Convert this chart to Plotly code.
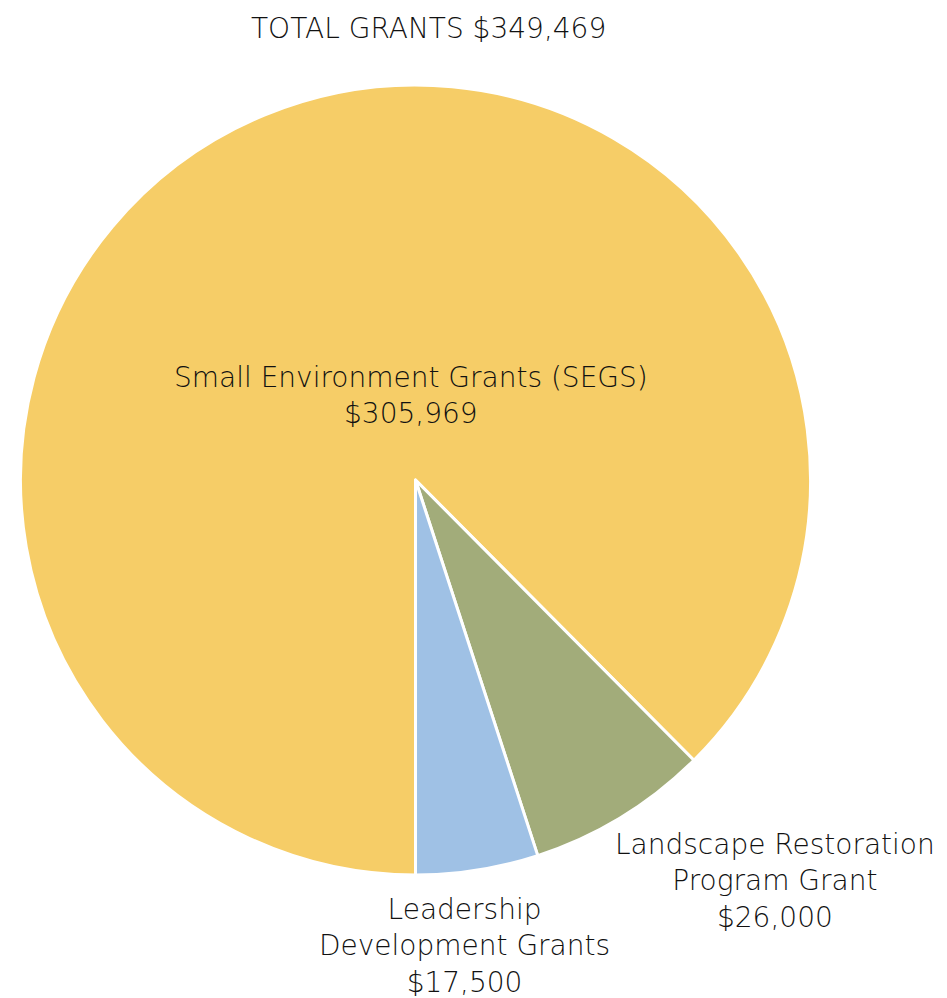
import plotly.graph_objects as go

categories = ["Small Environment Grants (SEGS)", "Landscape Restoration<br>Program Grant", "Leadership<br>Development Grants"]
values = [305969, 26000, 17500]
colors = ["#F6CD67", "#A2AC7A", "#9FC1E5"]
title_text = "TOTAL GRANTS ${:,}".format(sum(values))

W, H = 947, 998
OFF = 8  # page body margin

def px(x):
    return (x - OFF) / W

def py(y):
    return 1 - (y - OFF) / H

# label placement (paper coords)
label_pos = [(px(411), py(395)), (px(775), py(881)), (px(464), py(946))]

FONT = "DejaVu Sans"
TXT = dict(family=FONT, size=28, color="#111111", weight=300)

fig = go.Figure()
fig.add_trace(go.Pie(
    labels=categories,
    values=values,
    sort=False,
    direction="clockwise",
    rotation=180,
    marker=dict(colors=colors, line=dict(color="white", width=3)),
    textinfo="none",
    hoverinfo="label+value",
    showlegend=False,
    domain=dict(x=[px(20), px(811)], y=[py(875), py(85)]),
))

for (x, y), lab, v in zip(label_pos, categories, values):
    fig.add_annotation(
        x=x, y=y, xref="paper", yref="paper",
        text="{}<br>${:,}".format(lab, v),
        showarrow=False, xanchor="center", yanchor="middle",
        font=TXT,
    )

fig.add_annotation(
    x=px(428), y=py(29), xref="paper", yref="paper",
    text=title_text, showarrow=False, xanchor="center", yanchor="middle",
    font=TXT,
)

fig.update_layout(
    width=W, height=H,
    margin=dict(l=0, r=0, t=0, b=0),
    paper_bgcolor="white", plot_bgcolor="white",
)

fig.write_html("out.html")
